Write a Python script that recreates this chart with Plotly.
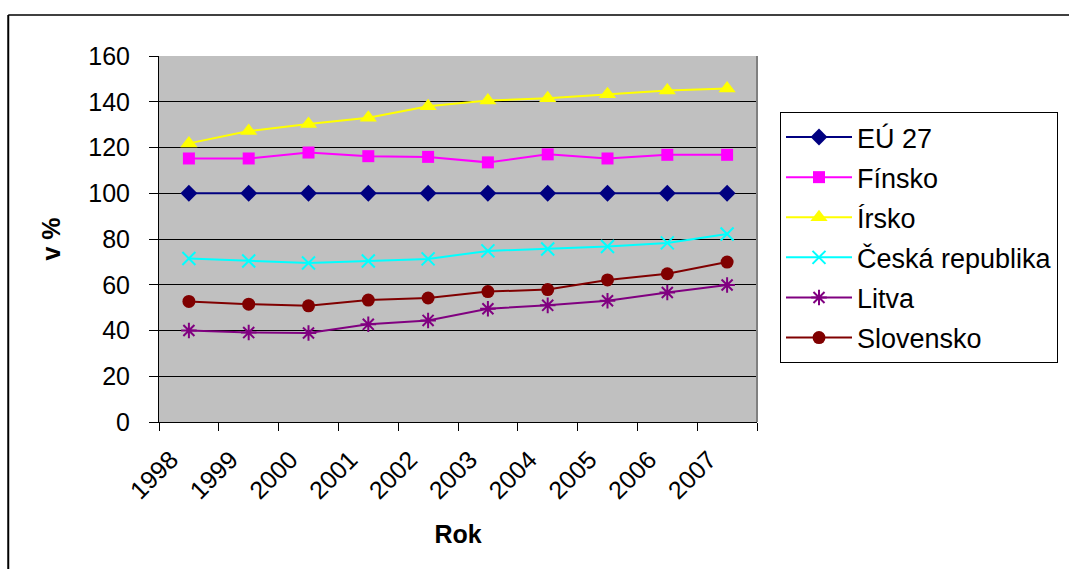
import plotly.graph_objects as go

# GDP per capita in PPS, EU-27 = 100
roky = ["1998", "1999", "2000", "2001", "2002", "2003", "2004", "2005", "2006", "2007"]

eu27 = [100, 100, 100, 100, 100, 100, 100, 100, 100, 100]
finsko = [115.2, 115.2, 117.8, 116.2, 115.9, 113.5, 117.0, 115.2, 116.8, 116.8]
irsko = [121.8, 127.2, 130.3, 133.0, 138.0, 140.5, 141.5, 143.3, 144.9, 145.8]
cesko = [71.5, 70.4, 69.5, 70.4, 71.3, 74.8, 75.6, 76.7, 78.3, 82.2]
litva = [40.0, 39.1, 38.9, 42.7, 44.4, 49.5, 51.0, 53.0, 56.6, 59.9]
slovensko = [52.7, 51.5, 50.8, 53.3, 54.2, 57.0, 57.9, 62.1, 64.8, 69.9]

FONT = "Liberation Sans, Arial, sans-serif"

series = [
    ("EÚ 27", eu27, "#000080", "diamond", 13, 0),
    ("Fínsko", finsko, "#FF00FF", "square", 12, 0),
    ("Írsko", irsko, "#FFFF00", "triangle-up", 15, 0),
    ("Česká republika", cesko, "#00FFFF", "x-thin-open", 13, 2),
    ("Litva", litva, "#800080", "asterisk-open", 13, 2),
    ("Slovensko", slovensko, "#800000", "circle", 13, 0),
]

fig = go.Figure()
for name, vals, color, symbol, size, lw in series:
    fig.add_trace(go.Scatter(
        x=roky, y=vals, name=name, mode="lines+markers",
        legendgroup=name,
        line=dict(color=color, width=2),
        marker=dict(symbol=symbol, size=size, color=color,
                    line=dict(color=color, width=lw)),
    ))

W, H = 1069, 569
L, R, T, B = 159, 758, 56, 422
pw, ph = R - L, B - T


def px(x):
    return (x - L) / pw


def py(y):
    return (B - y) / ph


fig.update_layout(
    width=W, height=H,
    margin=dict(l=L, r=W - R, t=T, b=H - B, pad=0),
    paper_bgcolor="white",
    plot_bgcolor="#C0C0C0",
    font=dict(family=FONT, size=25, color="black"),
    showlegend=True,
    legend=dict(
        x=px(780), y=py(112), xanchor="left", yanchor="top",
        bgcolor="white", bordercolor="black", borderwidth=1,
        font=dict(family=FONT, size=27, color="black"),
        tracegroupgap=2, traceorder="grouped", itemwidth=66,
    ),
    xaxis=dict(
        type="category", range=[-0.5, 9.5],
        tickson="boundaries", ticks="outside", ticklen=8, tickwidth=1,
        tickcolor="black", showline=True, linecolor="black", linewidth=1,
        showgrid=False, zeroline=False, tickangle=-45,
        tickfont=dict(family=FONT, size=25),
        ticklabelshift=-18, ticklabelstandoff=12,
        title=dict(text="<b>Rok</b>", font=dict(family=FONT, size=25), standoff=22),
    ),
    yaxis=dict(
        range=[0, 160], dtick=20, tick0=0,
        ticks="outside", ticklen=9, tickwidth=1, tickcolor="black",
        showline=True, linecolor="black", linewidth=1,
        showgrid=True, gridcolor="black", gridwidth=1, zeroline=False,
        tickfont=dict(family=FONT, size=25),
        ticklabelstandoff=14,
        title=dict(text="<b>v %</b>", font=dict(family=FONT, size=25), standoff=20),
    ),
    shapes=[
        # right edge of the plot area
        dict(type="line", xref="paper", yref="paper", x0=1, x1=1, y0=0, y1=1,
             line=dict(color="#808080", width=2)),
        # outer chart frame
        dict(type="line", xref="paper", yref="paper",
             x0=px(8), x1=px(1100), y0=py(15), y1=py(15),
             line=dict(color="#404040", width=2)),
        dict(type="line", xref="paper", yref="paper",
             x0=px(8), x1=px(8), y0=py(15), y1=py(600),
             line=dict(color="black", width=2)),
    ],
)

fig.write_html("out.html")
